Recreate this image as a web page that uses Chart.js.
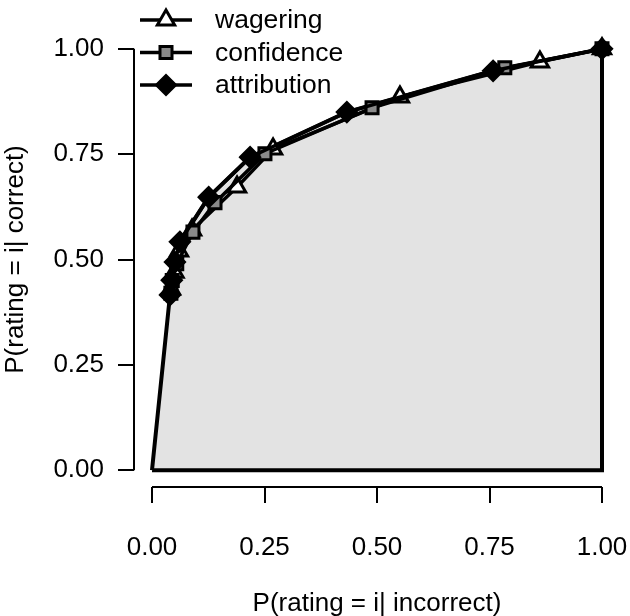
<!DOCTYPE html>
<html>
<head>
<meta charset="utf-8">
<script src="https://cdn.jsdelivr.net/npm/chart.js@4/dist/chart.umd.min.js"></script>
<style>
  html, body { margin: 0; padding: 0; background: #fff; }
  #wrap { width: 630px; height: 616px; }
</style>
</head>
<body>
<div id="wrap"><canvas id="roc" width="630" height="616"></canvas></div>
<script>
// Datos: curvas ROC tipo 2 (x = P(rating|incorrect), y = P(rating|correct))
const seriesNames = ["wagering", "confidence", "attribution"];

const wageringX = [0.042, 0.050, 0.060, 0.089, 0.189, 0.269, 0.551, 0.862, 1.00];
const wageringY = [0.430, 0.470, 0.520, 0.570, 0.672, 0.762, 0.886, 0.969, 1.00];

const confidenceX = [0.042, 0.045, 0.055, 0.091, 0.140, 0.251, 0.489, 0.784, 1.00];
const confidenceY = [0.420, 0.450, 0.490, 0.565, 0.635, 0.751, 0.860, 0.955, 1.00];

const attributionX = [0.040, 0.044, 0.051, 0.062, 0.126, 0.218, 0.433, 0.758, 1.00];
const attributionY = [0.416, 0.451, 0.494, 0.542, 0.648, 0.743, 0.850, 0.948, 1.00];

// Marcas de los ejes
const tickVals = [0, 0.25, 0.5, 0.75, 1];

const FONT = "'Liberation Sans', Arial, sans-serif";

// Junto x e y en puntos para Chart.js
const pts = (xs, ys) => xs.map((x, i) => ({ x, y: ys[i] }));

// Polígono gris: desde (0,0) por la curva de atribución hasta (1,1) y baja a (1,0)
const areaPts = [{ x: 0, y: 0 }, ...pts(attributionX, attributionY), { x: 1, y: 0 }, { x: 0, y: 0 }];

// Estilos de cada serie (marcador)
const styles = {
  wagering:    { pointStyle: "triangle", radius: 10,  bg: "#ffffff" },
  confidence:  { pointStyle: "rect",     radius: 8.5, bg: "#8a8a8a" },
  attribution: { pointStyle: "rectRot",  radius: 9.5, bg: "#000000" },
};

function serie(name, xs, ys, order) {
  const s = styles[name];
  return {
    label: name,
    data: pts(xs, ys),
    showLine: true,
    borderColor: "#000",
    borderWidth: 3.5,
    pointStyle: s.pointStyle,
    pointRadius: s.radius,
    pointBackgroundColor: s.bg,
    pointBorderColor: "#000",
    pointBorderWidth: 3,
    fill: false,
    clip: false,
    order,
  };
}

// Ejes al estilo R: la línea solo va de 0 a 1
const axisLines = {
  id: "axisLines",
  afterDraw(chart) {
    const { ctx, chartArea, scales } = chart;
    ctx.save();
    ctx.strokeStyle = "#000";
    ctx.lineWidth = 2;
    ctx.beginPath();
    ctx.moveTo(scales.x.getPixelForValue(0), chartArea.bottom);
    ctx.lineTo(scales.x.getPixelForValue(1), chartArea.bottom);
    ctx.moveTo(chartArea.left, scales.y.getPixelForValue(0));
    ctx.lineTo(chartArea.left, scales.y.getPixelForValue(1));
    ctx.stroke();
    ctx.restore();
  },
};

// Leyenda dibujada a mano arriba a la izquierda
const legendBox = {
  id: "legendBox",
  afterDraw(chart) {
    const { ctx } = chart;
    const x0 = 140, x1 = 192, tx = 215;
    const rows = [20, 52.5, 85];
    ctx.save();
    seriesNames.forEach((name, i) => {
      const y = rows[i];
      const s = styles[name];
      ctx.strokeStyle = "#000";
      ctx.lineWidth = 3.5;
      ctx.beginPath();
      ctx.moveTo(x0, y);
      ctx.lineTo(x1, y);
      ctx.stroke();
      ctx.fillStyle = s.bg;
      ctx.lineWidth = 3;
      Chart.helpers.drawPoint(ctx, { pointStyle: s.pointStyle, radius: s.radius, borderWidth: 3 }, (x0 + x1) / 2, y);
      ctx.fillStyle = "#000";
      ctx.font = "26.5px " + FONT;
      ctx.textBaseline = "middle";
      ctx.textAlign = "left";
      ctx.fillText(name, tx, y + 1);
    });
    ctx.restore();
  },
};

const tickFont = { family: FONT, size: 26 };

new Chart(document.getElementById("roc"), {
  type: "scatter",
  data: {
    datasets: [
      serie("attribution", attributionX, attributionY, 1),
      serie("confidence", confidenceX, confidenceY, 2),
      serie("wagering", wageringX, wageringY, 3),
      {
        label: "area",
        data: areaPts,
        showLine: true,
        borderColor: "#000",
        borderWidth: 4,
        backgroundColor: "#e3e3e3",
        pointRadius: 0,
        fill: "shape",
        order: 10,
      },
    ],
  },
  options: {
    responsive: false,
    animation: false,
    events: [],
    layout: { autoPadding: false, padding: { top: 32, right: 10, left: 0, bottom: 0 } },
    plugins: { legend: { display: false }, tooltip: { enabled: false } },
    scales: {
      x: {
        type: "linear",
        min: -0.04,
        max: 1.04,
        afterBuildTicks: (s) => { s.ticks = tickVals.map((v) => ({ value: v })); },
        afterFit: (s) => { s.height = 129; s.paddingLeft = 0; s.paddingRight = 0; },
        ticks: { callback: (v) => Number(v).toFixed(2), font: tickFont, color: "#000", padding: 29, maxRotation: 0, autoSkip: false },
        grid: { drawOnChartArea: false, drawTicks: true, tickLength: 16, color: "#000", lineWidth: 2 },
        border: { display: false },
        title: { display: true, text: "P(rating = i| incorrect)", font: tickFont, color: "#000", padding: { top: 0, bottom: -3 } },
      },
      y: {
        type: "linear",
        min: -0.04,
        max: 1.04,
        afterBuildTicks: (s) => { s.ticks = tickVals.map((v) => ({ value: v })); },
        afterFit: (s) => { s.width = 134; s.paddingTop = 0; s.paddingBottom = 0; },
        ticks: { callback: (v) => Number(v).toFixed(2), font: tickFont, color: "#000", padding: 14, autoSkip: false },
        grid: { drawOnChartArea: false, drawTicks: true, tickLength: 16, color: "#000", lineWidth: 2 },
        border: { display: false },
        title: { display: true, text: "P(rating = i| correct)", font: tickFont, color: "#000", padding: { top: 0, bottom: 0 } },
      },
    },
  },
  plugins: [axisLines, legendBox],
});
</script>
</body>
</html>
